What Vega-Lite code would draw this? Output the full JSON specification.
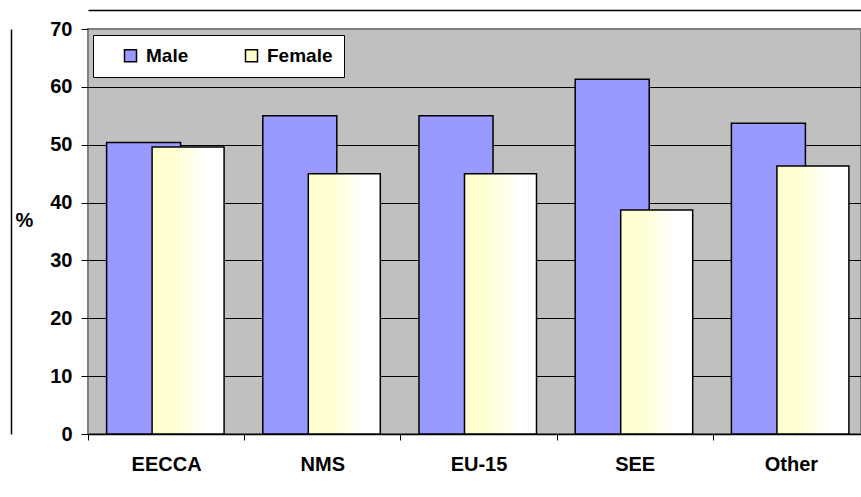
{
  "$schema": "https://vega.github.io/schema/vega-lite/v6.json",
  "width": 773,
  "height": 405,
  "autosize": {"type": "none"},
  "padding": {"left": 88, "top": 29, "right": 0, "bottom": 63},
  "background": "white",
  "config": {
    "font": "Liberation Sans",
    "view": {"fill": "#C0C0C0", "stroke": "#808080", "strokeWidth": 2}
  },
  "data": {
    "values": [
      {"region": "EECCA", "sex": "Male", "pct": 50.4},
      {"region": "EECCA", "sex": "Female", "pct": 49.6},
      {"region": "NMS", "sex": "Male", "pct": 55.0},
      {"region": "NMS", "sex": "Female", "pct": 45.0},
      {"region": "EU-15", "sex": "Male", "pct": 55.0},
      {"region": "EU-15", "sex": "Female", "pct": 45.0},
      {"region": "SEE", "sex": "Male", "pct": 61.3},
      {"region": "SEE", "sex": "Female", "pct": 38.7},
      {"region": "Other", "sex": "Male", "pct": 53.7},
      {"region": "Other", "sex": "Female", "pct": 46.3}
    ]
  },
  "layer": [
    {
      "transform": [{"filter": "datum.sex == 'Male'"}],
      "mark": {"type": "bar", "width": 74, "xOffset": -22.5, "stroke": "#000", "strokeWidth": 1.5},
      "encoding": {
        "x": {
          "field": "region", "type": "nominal",
          "sort": ["EECCA", "NMS", "EU-15", "SEE", "Other"],
          "scale": {"paddingInner": 0, "paddingOuter": 0, "range": [0, 781]},
          "axis": {
            "orient": "bottom", "title": null, "labelAngle": 0,
            "labelFontSize": 20, "labelFontWeight": "bold", "labelColor": "#000",
            "labelPadding": 14, "tickBand": "extent", "tickSize": 6, "tickColor": "#000",
            "domainColor": "#000", "domainWidth": 1.5, "grid": false
          }
        },
        "y": {
          "field": "pct", "type": "quantitative",
          "scale": {"domain": [0, 70]},
          "axis": {
            "values": [0, 10, 20, 30, 40, 50, 60, 70],
            "domain": false, "ticks": true, "tickSize": 7, "tickColor": "#000", "tickWidth": 1,
            "grid": true,
            "gridColor": {"condition": {"test": "datum.value == 70", "value": "#808080"}, "value": "#000"},
            "gridWidth": 1,
            "labelFontSize": 20, "labelFontWeight": "bold", "labelColor": "#000", "labelPadding": 9,
            "title": "%", "titleAngle": 0, "titleX": -64, "titleY": 191,
            "titleAlign": "center", "titleBaseline": "middle",
            "titleFontSize": 20, "titleFontWeight": "bold", "titleColor": "#000"
          }
        },
        "color": {
          "field": "sex", "type": "nominal",
          "scale": {"domain": ["Male", "Female"], "range": ["#9999FF", "#FFFFCC"]},
          "legend": {
            "orient": "none", "legendX": 5, "legendY": 6, "direction": "horizontal",
            "fillColor": "white", "strokeColor": "#000", "padding": 11,
            "symbolType": "square", "symbolSize": 144, "symbolStrokeColor": "#000",
            "symbolStrokeWidth": 1.5, "symbolOpacity": 1,
            "labelFontSize": 19, "labelFontWeight": "bold", "labelColor": "#000",
            "labelOffset": 6, "columnPadding": 53,
            "title": " ", "titleOrient": "left", "titleFontSize": 1, "titlePadding": 17
          }
        }
      }
    },
    {
      "transform": [{"filter": "datum.sex == 'Female'"}],
      "mark": {
        "type": "bar", "width": 72, "xOffset": 22, "stroke": "#000", "strokeWidth": 1.5,
        "fill": {
          "gradient": "linear", "x1": 0, "y1": 0, "x2": 1, "y2": 0,
          "stops": [
            {"offset": 0, "color": "#FFFFCC"},
            {"offset": 0.35, "color": "#FFFFD6"},
            {"offset": 0.75, "color": "#FFFFFF"},
            {"offset": 1, "color": "#FFFFFF"}
          ]
        }
      },
      "encoding": {
        "x": {
          "field": "region", "type": "nominal",
          "sort": ["EECCA", "NMS", "EU-15", "SEE", "Other"],
          "axis": {
            "orient": "top", "offset": 19, "labels": false, "ticks": false, "grid": false,
            "title": null, "domainColor": "#000", "domainWidth": 1.5
          }
        },
        "y": {
          "field": "pct", "type": "quantitative",
          "axis": {
            "orient": "left", "offset": 77, "labels": false, "ticks": false, "grid": false,
            "title": null, "domainColor": "#000", "domainWidth": 1.5
          }
        }
      }
    }
  ],
  "resolve": {"axis": {"x": "independent", "y": "independent"}}
}
